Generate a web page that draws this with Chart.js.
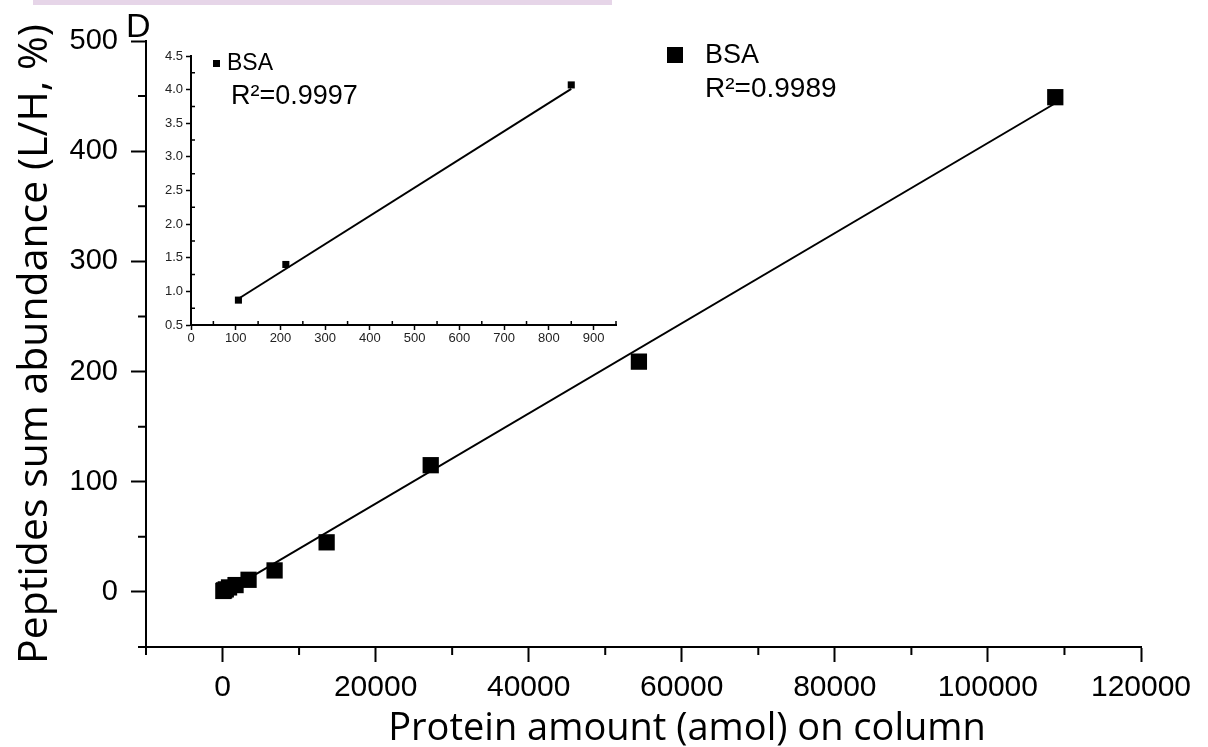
<!DOCTYPE html>
<html>
<head>
<meta charset="utf-8">
<script src="https://cdn.jsdelivr.net/npm/chart.js@4.4.1/dist/chart.umd.min.js"></script>
<style>
  body { margin: 0; background: #fff; }
  #wrap { position: relative; width: 1208px; height: 747px; overflow: hidden; background: #fff; }
  #topband { position: absolute; left: 33px; top: 0; width: 579px; height: 5px; background: #e6d5e8; }
  #mainChart { position: absolute; left: 0; top: 0; }
  #insetChart { position: absolute; left: 100px; top: 40px; }
</style>
</head>
<body>
<div id="wrap">
  <div id="topband"></div>
  <canvas id="mainChart" width="1208" height="747"></canvas>
  <canvas id="insetChart" width="540" height="320"></canvas>
</div>
<script>
// main panel: protein amount (amol) vs peptides sum abundance (L/H, %)
const mainAmount = [106, 212, 425, 850, 1700, 3400, 6800, 13600, 27200, 54400, 108800];
const mainAbundance = [0.87, 1.4, 2.3, 4.07, 6.2, 11, 19.5, 45, 115, 209, 449];
const mainFitAmount = [106, 108800];
const mainFitAbundance = [-1.3, 443.5];
const mainXTicks = [0, 20000, 40000, 60000, 80000, 100000, 120000];
const mainXMinor = [-10000, 10000, 30000, 50000, 70000, 90000, 110000];
const mainYTicks = [0, 100, 200, 300, 400, 500];
const mainYMinor = [-50, 50, 150, 250, 350, 450];

// inset: low amounts
const insetAmount = [106, 212, 850];
const insetAbundance = [0.87, 1.4, 4.07];
const insetFitAmount = [106, 850];
const insetFitAbundance = [0.89, 4.01];
const insetXTicks = [0, 100, 200, 300, 400, 500, 600, 700, 800, 900];
const insetXMinor = [50, 150, 250, 350, 450, 550, 650, 750, 850, 950];
const insetYTicks = [0.5, 1.0, 1.5, 2.0, 2.5, 3.0, 3.5, 4.0, 4.5];
const insetYMinor = [0.75, 1.25, 1.75, 2.25, 2.75, 3.25, 3.75, 4.25];

const xTitle = 'Protein amount (amol) on column';
const yTitle = 'Peptides sum abundance (L/H, %)';

const toPoints = (xs, ys) => xs.map((x, i) => ({x: x, y: ys[i]}));

// minor ticks; dir 1 = outward, -1 = into the plot
const minorTicks = {
  id: 'minorTicks',
  afterDraw(chart, args, opts) {
    const ctx = chart.ctx;
    const xs = chart.scales.x, ys = chart.scales.y;
    const d = opts.dir * opts.length;
    ctx.save();
    ctx.strokeStyle = '#000';
    ctx.lineWidth = opts.width;
    ctx.beginPath();
    opts.x.forEach(v => {
      const px = xs.getPixelForValue(v);
      ctx.moveTo(px, xs.top);
      ctx.lineTo(px, xs.top + d);
    });
    opts.y.forEach(v => {
      const py = ys.getPixelForValue(v);
      ctx.moveTo(ys.right, py);
      ctx.lineTo(ys.right - d, py);
    });
    ctx.stroke();
    ctx.restore();
  }
};

const annotations = {
  id: 'annotations',
  afterDraw(chart, args, opts) {
    const ctx = chart.ctx;
    ctx.save();
    ctx.fillStyle = '#000';
    ctx.textBaseline = 'alphabetic';
    opts.squares.forEach(s => ctx.fillRect(s.x, s.y, s.size, s.size));
    opts.items.forEach(it => {
      ctx.font = it.font;
      ctx.textAlign = it.align || 'left';
      ctx.fillText(it.text, it.x, it.y);
    });
    ctx.restore();
  }
};

const setTicks = values => scale => { scale.ticks = values.map(v => ({value: v})); };

new Chart(document.getElementById('mainChart'), {
  type: 'scatter',
  data: {
    datasets: [{
      data: toPoints(mainAmount, mainAbundance),
      pointStyle: 'rect',
      pointRadius: 11.5,
      backgroundColor: '#000',
      borderWidth: 0,
      showLine: false
    }, {
      data: toPoints(mainFitAmount, mainFitAbundance),
      showLine: true,
      pointRadius: 0,
      borderColor: '#000',
      borderWidth: 2,
      fill: false
    }]
  },
  options: {
    responsive: false,
    animation: false,
    layout: { padding: { left: 0, top: 41, right: 67, bottom: 0 } },
    plugins: {
      legend: { display: false },
      tooltip: { enabled: false },
      minorTicks: { x: mainXMinor, y: mainYMinor, length: 8, width: 2, dir: 1 },
      annotations: {
        squares: [{x: 667, y: 47, size: 16}],
        items: [
          {text: 'D', font: '34px "Liberation Sans"', x: 126, y: 37},
          {text: 'BSA', font: '27px "Liberation Sans"', x: 705, y: 63},
          {text: 'R²=0.9989', font: '28px "Liberation Sans"', x: 705, y: 97},
          {text: xTitle, font: '38px "Open Sans"', x: 687, y: 740, align: 'center'}
        ]
      }
    },
    scales: {
      x: {
        type: 'linear',
        min: -10000,
        max: 120000,
        afterBuildTicks: setTicks(mainXTicks),
        afterFit: s => { s.height = 100; },
        border: { display: true, color: '#000', width: 2 },
        grid: { drawOnChartArea: false, drawTicks: true, tickLength: 15, tickWidth: 2, tickColor: '#000' },
        ticks: {
          autoSkip: false, maxRotation: 0, padding: 8, color: '#000',
          font: { family: 'Liberation Sans', size: 30 },
          callback: v => String(v)
        }
      },
      y: {
        type: 'linear',
        min: -50,
        max: 500,
        afterBuildTicks: setTicks(mainYTicks),
        afterFit: s => { s.width = 146; },
        border: { display: true, color: '#000', width: 2 },
        grid: { drawOnChartArea: false, drawTicks: true, tickLength: 15, tickWidth: 2, tickColor: '#000' },
        ticks: {
          autoSkip: false, padding: 13, color: '#000',
          font: { family: 'Liberation Sans', size: 29 },
          callback: v => String(v)
        },
        title: {
          display: true, text: yTitle, color: '#000',
          font: { family: 'Open Sans', size: 41 },
          padding: { top: 11, bottom: 0 }
        }
      }
    }
  },
  plugins: [minorTicks, annotations]
});

new Chart(document.getElementById('insetChart'), {
  type: 'scatter',
  data: {
    datasets: [{
      data: toPoints(insetAmount, insetAbundance),
      pointStyle: 'rect',
      pointRadius: 5,
      backgroundColor: '#000',
      borderWidth: 0,
      showLine: false
    }, {
      data: toPoints(insetFitAmount, insetFitAbundance),
      showLine: true,
      pointRadius: 0,
      borderColor: '#000',
      borderWidth: 2,
      fill: false
    }]
  },
  options: {
    responsive: false,
    animation: false,
    layout: { padding: { left: 0, top: 16, right: 24, bottom: 0 } },
    plugins: {
      legend: { display: false },
      tooltip: { enabled: false },
      minorTicks: { x: insetXMinor, y: insetYMinor, length: 4, width: 1.5, dir: -1 },
      annotations: {
        squares: [{x: 113, y: 20, size: 7}],
        items: [
          {text: 'BSA', font: '23px "Liberation Sans"', x: 127, y: 30},
          {text: 'R²=0.9997', font: '27px "Liberation Sans"', x: 131, y: 64}
        ]
      }
    },
    scales: {
      x: {
        type: 'linear',
        min: 0,
        max: 950,
        afterBuildTicks: setTicks(insetXTicks),
        afterFit: s => { s.height = 35; },
        border: { display: true, color: '#000', width: 2 },
        grid: { drawOnChartArea: false, drawTicks: true, tickLength: 5, tickWidth: 1.5, tickColor: '#000' },
        ticks: {
          autoSkip: false, maxRotation: 0, padding: 1, color: '#222',
          font: { family: 'Liberation Sans', size: 13 },
          callback: v => String(v)
        }
      },
      y: {
        type: 'linear',
        min: 0.5,
        max: 4.5,
        afterBuildTicks: setTicks(insetYTicks),
        afterFit: s => { s.width = 91; },
        border: { display: true, color: '#000', width: 2 },
        grid: { drawOnChartArea: false, drawTicks: true, tickLength: 5, tickWidth: 1.5, tickColor: '#000' },
        ticks: {
          autoSkip: false, padding: 3, color: '#222',
          font: { family: 'Liberation Sans', size: 13 },
          callback: v => v.toFixed(1)
        }
      }
    }
  },
  plugins: [minorTicks, annotations]
});
</script>
</body>
</html>
